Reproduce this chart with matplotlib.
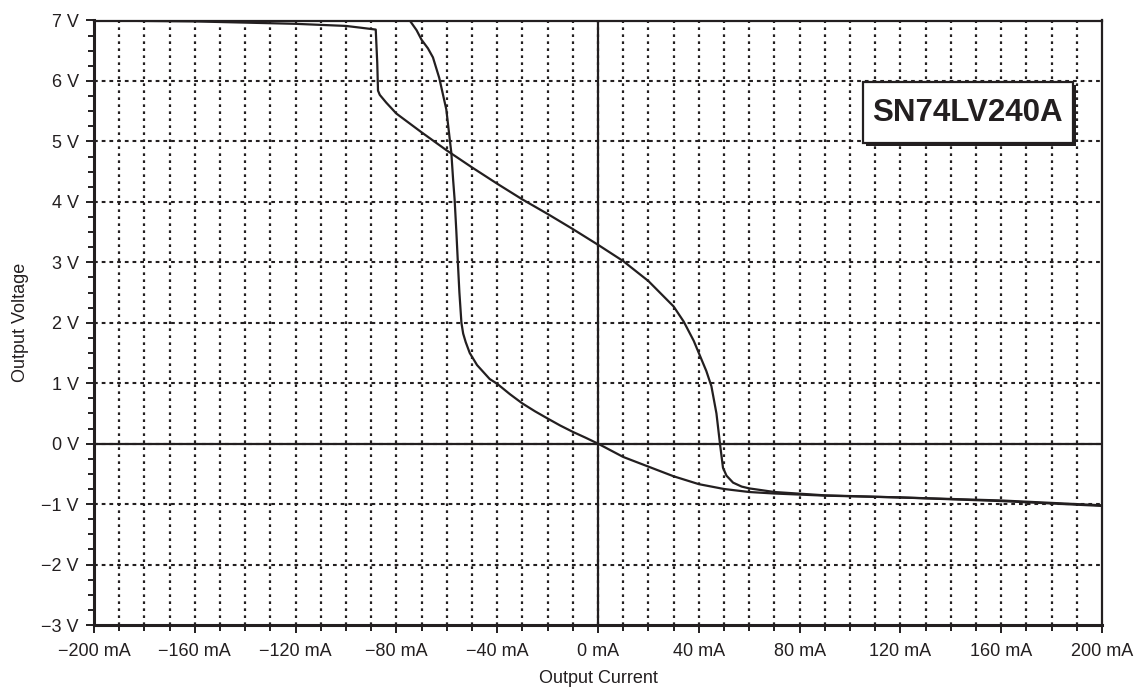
import matplotlib
matplotlib.use('Agg')
import matplotlib.pyplot as plt
import matplotlib.patheffects as pe
from matplotlib.patches import Rectangle
from matplotlib.ticker import MultipleLocator, FuncFormatter

plt.rcParams['font.family'] = ['Liberation Sans', 'DejaVu Sans']
ink = '#231f20'

# curve with the step near -88 mA (mA, V)
cur_a = [-200, -160, -120, -100, -94, -88.2, -87.6, -87.3, -86.6, -84, -80, -70, -60,
         -50, -40, -30, -20, -10, 0, 10, 20, 30, 34, 38, 41, 43, 45, 47, 48.4, 49.6,
         51, 53.6, 57, 60, 70, 90, 120, 160, 200]
volt_a = [7.0, 6.985, 6.945, 6.91, 6.88, 6.85, 6.3, 5.84, 5.77, 5.64, 5.46, 5.15, 4.85,
          4.57, 4.3, 4.04, 3.8, 3.55, 3.29, 3.02, 2.69, 2.27, 2.02, 1.7, 1.4, 1.2, 0.95,
          0.5, 0.0, -0.4, -0.53, -0.645, -0.71, -0.74, -0.80, -0.855, -0.89, -0.94, -1.02]

# curve falling steeply near -56 mA
cur_b = [-74.7, -72, -70, -67.5, -65.5, -63, -60.2, -58.2, -57.5, -56.9, -56.2, -55.6,
         -55, -54.2, -53.5, -52.5, -50.9, -48, -43, -40, -35, -30, -25, -20, -15, -10, -5,
         0, 10, 20, 30, 40, 50, 60, 70, 90, 120, 160, 200]
volt_b = [7.0, 6.84, 6.68, 6.54, 6.39, 6.05, 5.53, 4.81, 4.37, 4.04, 3.5, 2.99,
          2.5, 2.0, 1.82, 1.68, 1.5, 1.3, 1.07, 0.99, 0.82, 0.665, 0.535, 0.416, 0.3, 0.195, 0.1,
          0.0, -0.22, -0.38, -0.54, -0.67, -0.75, -0.8, -0.825, -0.86, -0.89, -0.95, -1.03]

y_major = list(range(-3, 8))

fig = plt.figure(figsize=(11.41, 6.96), dpi=100)
ax = fig.add_axes([94 / 1141, 1 - 625 / 696, 1008 / 1141, 604.5 / 696])

ax.set_xlim(-200, 200)
ax.set_ylim(-3, 7)

# grid
for x in range(-190, 200, 10):
    ax.axvline(x, color=ink, lw=1.6, ls=(0, (1.2, 1.95)), zorder=1)
for y in y_major[1:-1]:
    ax.axhline(y, color=ink, lw=1.5, ls=(0, (1.8, 1.9)), zorder=1)
ax.axhline(0, color=ink, lw=1.6, zorder=2)
ax.axvline(0, color=ink, lw=1.6, zorder=2)

ax.plot(cur_a, volt_a, color=ink, lw=1.6, zorder=3)
ax.plot(cur_b, volt_b, color=ink, lw=1.6, zorder=3)

ax.xaxis.set_major_locator(MultipleLocator(40))
ax.xaxis.set_minor_locator(MultipleLocator(10))
ax.yaxis.set_major_locator(MultipleLocator(1))
ax.yaxis.set_minor_locator(MultipleLocator(0.25))
ax.xaxis.set_major_formatter(FuncFormatter(lambda v, p: f'{int(round(v))} mA'.replace('-', '\u2212')))
ax.yaxis.set_major_formatter(FuncFormatter(lambda v, p: f'{int(round(v))} V'.replace('-', '\u2212')))

ax.tick_params(which='major', length=6, width=1.4, color=ink, labelsize=13, labelcolor=ink, pad=5)
ax.tick_params(which='minor', length=4.5, width=1.4, color=ink)
ax.tick_params(axis='x', which='both', pad=7)

for side in ['left', 'bottom']:
    ax.spines[side].set_linewidth(2.2)
for side in ['top', 'right']:
    ax.spines[side].set_linewidth(1.6)
for s in ax.spines.values():
    s.set_color(ink)

ax.set_xlabel('Output Current', fontsize=13, color=ink, labelpad=7)
ax.set_ylabel('Output Voltage', fontsize=13, color=ink, labelpad=9)

# part number box with drop shadow
box = Rectangle((0.763, 0.797), 0.208, 0.101, transform=ax.transAxes,
                facecolor='white', edgecolor=ink, lw=1.6, zorder=5)
box.set_path_effects([pe.SimplePatchShadow(offset=(2.2, -2.2), shadow_rgbFace=ink, alpha=1),
                      pe.Normal()])
ax.add_patch(box)
ax.text(0.867, 0.8475, 'SN74LV240A', transform=ax.transAxes, fontsize=22.5,
        fontweight='bold', color=ink, ha='center', va='center', zorder=6)

fig.savefig('out.png', dpi=100)
